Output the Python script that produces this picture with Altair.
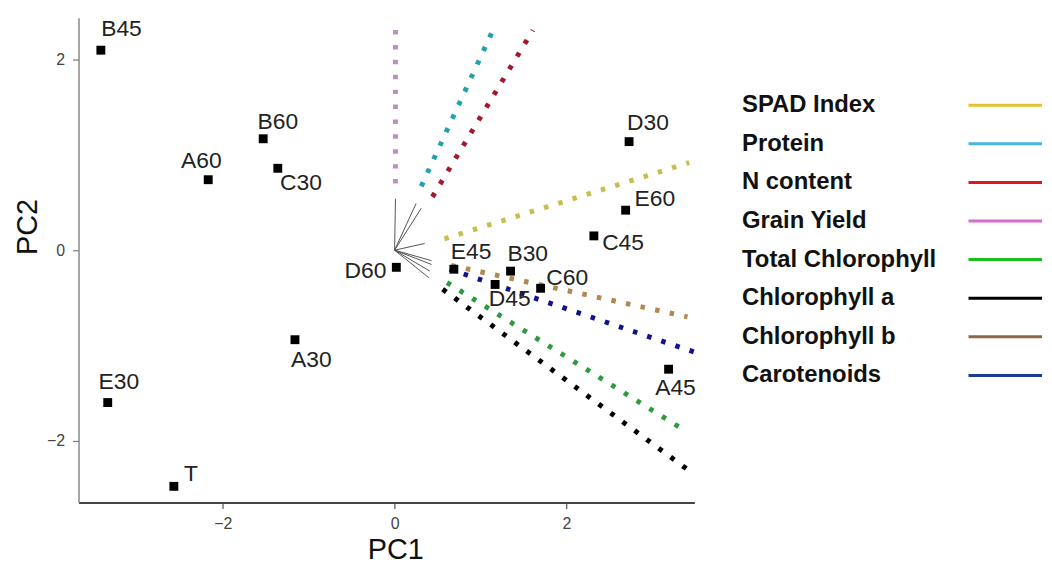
import altair as alt
import pandas as pd

# ---- treatment scores (PC1, PC2) ----
treatments = ["B45", "B60", "A60", "C30", "D60", "A30", "E30", "T",
              "D30", "E60", "C45", "E45", "B30", "C60", "D45", "A45"]
pc1 = [-3.42, -1.53, -2.17, -1.36, 0.02, -1.16, -3.34, -2.57,
       2.73, 2.69, 2.32, 0.69, 1.35, 1.70, 1.17, 3.19]
pc2 = [2.10, 1.17, 0.74, 0.86, -0.18, -0.94, -1.60, -2.48,
       1.14, 0.42, 0.15, -0.20, -0.22, -0.40, -0.36, -1.25]
# label anchor positions (data units)
label_x = [-3.18, -1.36, -2.25, -1.09, -0.34, -0.97, -3.21, -2.37,
           2.95, 3.03, 2.66, 0.89, 1.55, 2.01, 1.34, 3.27]
label_y = [2.32, 1.35, 0.94, 0.70, -0.22, -1.15, -1.38, -2.35,
           1.33, 0.54, 0.07, -0.02, -0.04, -0.29, -0.51, -1.45]

# ---- variable loadings ----
variables = ["SPAD Index", "Protein", "N content", "Grain Yield",
             "Total Chlorophyll", "Chlorophyll a", "Chlorophyll b", "Carotenoids"]
arrow_x = [0.35, 0.25, 0.31, 0.01, 0.41, 0.40, 0.43, 0.43]
arrow_y = [0.07, 0.49, 0.44, 0.54, -0.22, -0.29, -0.11, -0.15]
dot_x_start = [0.58, 0.31, 0.44, 0.01, 0.61, 0.56, 0.66, 0.64]
dot_y_start = [0.12, 0.67, 0.56, 0.70, -0.34, -0.41, -0.16, -0.20]
dot_x_end = [3.43, 1.16, 1.61, 0.01, 3.39, 3.45, 3.41, 3.49]
dot_y_end = [0.92, 2.34, 2.31, 2.42, -1.90, -2.33, -0.70, -1.07]
plot_colors = ["#C8BE50", "#22A3A8", "#A5182C", "#BC92BC",
               "#2E9A40", "#000000", "#B08850", "#12128F"]
legend_colors = ["#E6C22E", "#45B4E0", "#E0161E", "#D86CC4",
                 "#18C018", "#000000", "#8C6A48", "#1C3C94"]

x_ticks = [-2, 0, 2]
y_ticks = [-2, 0, 2]

FONT = "Liberation Sans"

points = pd.DataFrame({"treatment": treatments, "pc1": pc1, "pc2": pc2,
                       "lx": label_x, "ly": label_y})
vectors = pd.DataFrame({
    "variable": variables,
    "ox": [0.0] * len(variables), "oy": [0.0] * len(variables),
    "ax": arrow_x, "ay": arrow_y,
    "sx": dot_x_start, "sy": dot_y_start,
    "ex": dot_x_end, "ey": dot_y_end,
    "color": plot_colors,
})

xs = alt.Scale(domain=[-3.68, 3.49], nice=False, zero=False)
ys = alt.Scale(domain=[-2.65, 2.44], nice=False, zero=False)

x_axis = alt.Axis(values=x_ticks, title="PC1", grid=False,
                  domainColor="#444444", domainWidth=2,
                  tickColor="#555555", tickSize=6, tickWidth=1.2,
                  labelColor="#444444", labelFontSize=16, labelPadding=7,
                  titleFontSize=29, titleFontWeight="normal", titleColor="#111111",
                  titlePadding=4, titleX=319, titleFont=FONT, labelFont=FONT)
y_axis = alt.Axis(values=y_ticks, title="PC2", grid=False,
                  domainColor="#888888", domainWidth=1.5,
                  tickColor="#777777", tickSize=6, tickWidth=1.2,
                  labelColor="#444444", labelFontSize=16, labelPadding=8,
                  titleFontSize=29, titleFontWeight="normal", titleColor="#111111",
                  titlePadding=4, titleY=210, titleFont=FONT, labelFont=FONT)


def X(f):
    return alt.X(f, type="quantitative", scale=xs, axis=x_axis)


def Y(f):
    return alt.Y(f, type="quantitative", scale=ys, axis=y_axis)


thin = alt.Chart(vectors).mark_rule(strokeWidth=1, color="#555555").encode(
    x=X("ox"), y=Y("oy"), x2="ax", y2="ay")

dotted = alt.Chart(vectors).mark_rule(strokeWidth=5, strokeDash=[4.5, 10.5], strokeCap="butt").encode(
    x=X("sx"), y=Y("sy"), x2="ex", y2="ey",
    color=alt.Color("color:N", scale=None))

pts = alt.Chart(points).mark_square(size=80, color="black", opacity=1).encode(
    x=X("pc1"), y=Y("pc2"))

labels = alt.Chart(points).mark_text(fontSize=23, font=FONT, color="#222222",
                                     align="center", baseline="middle").encode(
    x=X("lx"), y=Y("ly"), text="treatment:N")

plot = alt.layer(thin, dotted, pts, labels).properties(width=620, height=488)

# ---- legend (text left, coloured line right) ----
legend_df = pd.DataFrame({"variable": variables, "color": legend_colors})
ly_scale = alt.Scale(type="point", domain=variables, range=[88, 360], padding=0)

legend_text = alt.Chart(legend_df).mark_text(
    align="left", baseline="middle", fontSize=24, fontWeight="bold",
    font=FONT, color="#111111").encode(
    x=alt.value(0),
    y=alt.Y("variable:N", scale=ly_scale, axis=None),
    text="variable:N")

legend_line = alt.Chart(legend_df).mark_rule(strokeWidth=3).encode(
    x=alt.value(228), x2=alt.value(302),
    y=alt.Y("variable:N", scale=ly_scale, axis=None),
    color=alt.Color("color:N", scale=None))

legend = alt.layer(legend_text, legend_line).properties(width=302, height=488)

chart = alt.hconcat(plot, legend, spacing=45).resolve_scale(
    x="independent", y="independent", color="independent"
).properties(
    padding={"left": 5, "top": 7, "right": 0, "bottom": 0}
).configure(
    font=FONT, background="white", view=alt.ViewConfig(stroke=None)
)

chart.save("out.html", embed_options={"renderer": "svg", "actions": False})
